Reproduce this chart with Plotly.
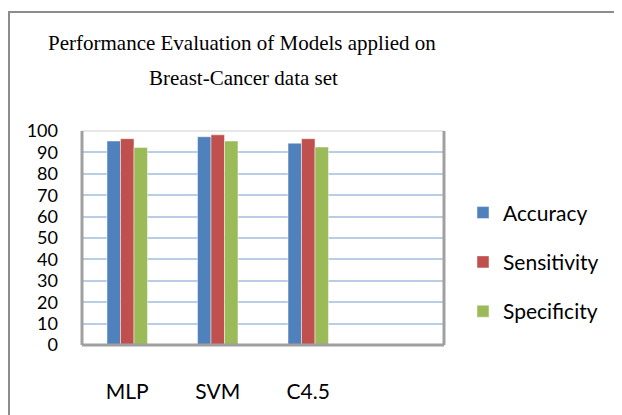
import plotly.graph_objects as go

categories = ["MLP", "SVM", "C4.5"]
accuracy = [95.3, 97.3, 94.3]
sensitivity = [96.4, 98.2, 96.4]
specificity = [92.3, 95.3, 92.5]
series_names = ["Accuracy", "Sensitivity", "Specificity"]
colors = ["#4F81BD", "#C0504D", "#9BBB59"]
y_ticks = [0, 10, 20, 30, 40, 50, 60, 70, 80, 90, 100]

OFF = 8  # page body margin offset
W, H = 622 - OFF, 415 - OFF
L, R, T, B = 82 - OFF, 444 - OFF, 131 - OFF, 347 - OFF  # plot area in figure pixels


def px(x):
    return (x - OFF - L) / (R - L)


def py(y):
    return (B - (y - OFF)) / (B - T)


fig = go.Figure()
for i, (name, vals) in enumerate(zip(series_names, [accuracy, sensitivity, specificity])):
    fig.add_trace(go.Bar(
        x=categories, y=vals, name=name,
        marker=dict(color=colors[i], line=dict(color="rgba(255,255,255,0.45)", width=1)),
        legendgroup=name,
    ))

fig.update_layout(
    width=W, height=H,
    margin=dict(l=L, r=W - R, t=T, b=H - B),
    paper_bgcolor="white", plot_bgcolor="white",
    barmode="group", bargap=0.553, bargroupgap=0,
    font=dict(family="Lato", size=20, color="black"),
    showlegend=True,
    legend=dict(
        x=px(463), xanchor="left", y=py(193), yanchor="top",
        font=dict(family="Lato", size=21, color="black"),
        traceorder="grouped", tracegroupgap=19,
        bgcolor="rgba(0,0,0,0)",
    ),
    xaxis=dict(
        range=[-0.5, 3.5], showgrid=False, zeroline=False, showline=False,
        ticks="", ticklabelstandoff=32,
        tickfont=dict(family="Lato", size=21, color="black"),
    ),
    yaxis=dict(
        range=[0, 100], tickvals=y_ticks, showgrid=True,
        gridcolor="#B9CDE5", gridwidth=2, zeroline=False, showline=False,
        ticks="", ticklabelstandoff=23,
        tickfont=dict(family="Lato", size=18, color="black"),
    ),
    shapes=[
        # outer chart frame
        dict(type="rect", xref="paper", yref="paper",
             x0=px(9), x1=px(621), y0=py(430), y1=py(11),
             line=dict(color="#8C8C8C", width=2), fillcolor="rgba(0,0,0,0)", layer="below"),
        # plot area border
        dict(type="rect", xref="paper", yref="paper",
             x0=0, x1=1, y0=0, y1=1,
             line=dict(color="#D0D0D0", width=1), fillcolor="rgba(0,0,0,0)", layer="above"),
        dict(type="line", xref="paper", yref="paper", x0=0, x1=0, y0=0, y1=1,
             line=dict(color="#A0A0A0", width=3)),
        dict(type="line", xref="paper", yref="paper", x0=0, x1=1, y0=0, y1=0,
             line=dict(color="#A0A0A0", width=3)),
        dict(type="line", xref="paper", yref="paper", x0=1, x1=1, y0=0, y1=1,
             line=dict(color="#A0A0A0", width=3)),
    ],
    annotations=[
        dict(text="Performance Evaluation of Models applied on", xref="paper", yref="paper",
             x=px(242), y=py(42), xanchor="center", yanchor="middle", showarrow=False,
             font=dict(family="Liberation Serif", size=21, color="black")),
        dict(text="Breast-Cancer data set", xref="paper", yref="paper",
             x=px(243), y=py(78), xanchor="center", yanchor="middle", showarrow=False,
             font=dict(family="Liberation Serif", size=21, color="black")),
    ],
)

fig.write_html("out.html")
